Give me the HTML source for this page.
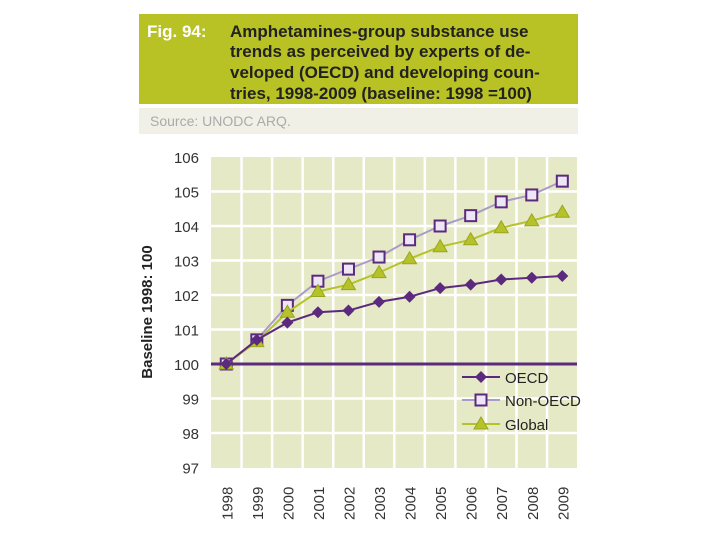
<!DOCTYPE html>
<html><head><meta charset="utf-8"><style>
body{margin:0;background:#fff;width:720px;height:540px;overflow:hidden;font-family:"Liberation Sans",sans-serif}
</style></head><body>
<svg width="720" height="540" xmlns="http://www.w3.org/2000/svg">
<rect x="139" y="14" width="439" height="90" fill="#b9c224"/>
<text x="147" y="37" font-size="17" font-weight="bold" fill="#fff">Fig. 94:</text>
<g font-size="17" font-weight="bold" fill="#222">
<text x="230" y="37">Amphetamines-group substance use</text>
<text x="230" y="57">trends as perceived by experts of de-</text>
<text x="230" y="78">veloped (OECD) and developing coun-</text>
<text x="230" y="99">tries, 1998-2009 (baseline: 1998 =100)</text>
</g>
<rect x="139" y="108" width="439" height="26" fill="#f0f0e6"/>
<text x="150" y="126" font-size="14" fill="#aaa">Source: UNODC ARQ.</text>
<rect x="211" y="157" width="366" height="311" fill="#e6e9c6"/>
<g id="grid"></g>
<g id="axes"></g>
<g id="series"></g>
<text transform="translate(152,312) rotate(-90)" text-anchor="middle" font-size="15" font-weight="bold" fill="#222">Baseline 1998: 100</text>
<g id="legend"></g>
</svg>
<script>
const years=["1998","1999","2000","2001","2002","2003","2004","2005","2006","2007","2008","2009"];
const oecd=[100,100.7,101.2,101.5,101.55,101.8,101.95,102.2,102.3,102.45,102.5,102.55];
const nonOecd=[100,100.7,101.7,102.4,102.75,103.1,103.6,104.0,104.3,104.7,104.9,105.3];
const globalVals=[100,100.65,101.5,102.1,102.3,102.65,103.05,103.4,103.6,103.95,104.15,104.4];
const yTicks=[97,98,99,100,101,102,103,104,105,106];
const NS="http://www.w3.org/2000/svg";
function mk(t,a,p){const e=document.createElementNS(NS,t);for(const k in a)e.setAttribute(k,a[k]);p.appendChild(e);return e;}
const X0=211,BW=30.55;
function xs(i){return X0+BW*(i+0.5);}
function ys(v){return 364-(v-100)*34.5;}
const grid=document.getElementById('grid'),axes=document.getElementById('axes'),ser=document.getElementById('series');
yTicks.forEach(v=>{
 if(v>97&&v<106){const l=mk('line',{x1:211,x2:577,y1:ys(v),y2:ys(v),stroke:'#fff','stroke-width':2.5},grid);
 
 }
 const t=mk('text',{x:199,y:ys(v)+6,'text-anchor':'end','font-size':15,fill:'#333'},axes);
 t.textContent=v;
 
 
});
years.forEach((y,i)=>{
 if(i>0){const l=mk('line',{x1:X0+BW*i,x2:X0+BW*i,y1:157,y2:468,stroke:'#fff','stroke-width':2.5},grid);
 
 }
 const t=mk('text',{transform:`translate(${xs(i)+6},520) rotate(-90)`,'font-size':15,fill:'#333'},axes);
 t.textContent=y;
 
 
});
const base=mk('line',{x1:211,x2:577,y1:ys(100),y2:ys(100),stroke:'#5b2a7e','stroke-width':3},grid);


function marker(type,x,y,p){
 let e;
 if(type==='diamond')e=mk('polygon',{points:`${x},${y-6} ${x+6},${y} ${x},${y+6} ${x-6},${y}`,fill:'#5b2a7e'},p);
 else if(type==='square')e=mk('rect',{x:x-5.5,y:y-5.5,width:11,height:11,fill:'#ece6f5',stroke:'#5b2a7e','stroke-width':2},p);
 else e=mk('polygon',{points:`${x},${y-7} ${x+7},${y+5} ${x-7},${y+5}`,fill:'#b5c22a',stroke:'#9aa61c','stroke-width':1},p);
 return e;
}
const specs=[[nonOecd,'#a99cc9','square','non-oecd'],[globalVals,'#b5c22a','triangle','global'],[oecd,'#5b2a7e','diamond','oecd']];
specs.forEach(([d,c,m,n])=>{
 const g=mk('g',{},ser);
 
 
 const pl=mk('polyline',{points:d.map((v,i)=>xs(i)+','+ys(v)).join(' '),fill:'none',stroke:c,'stroke-width':2},g);
 
 
 d.forEach((v,i)=>{const e=marker(m,xs(i),ys(v),g);
 
 });
});
const lg=document.getElementById('legend');


[['OECD','#5b2a7e','diamond',377],['Non-OECD','#a99cc9','square',400],['Global','#b5c22a','triangle',424]].forEach(([n,c,m,y])=>{
 const g=mk('g',{},lg);
 
 
 mk('line',{x1:462,x2:500,y1:y,y2:y,stroke:c,'stroke-width':2},g);
 marker(m,481,y,g);
 const t=mk('text',{x:505,y:y+6,'font-size':15,fill:'#222'},g);
 t.textContent=n;
});
</script>
</body></html>
